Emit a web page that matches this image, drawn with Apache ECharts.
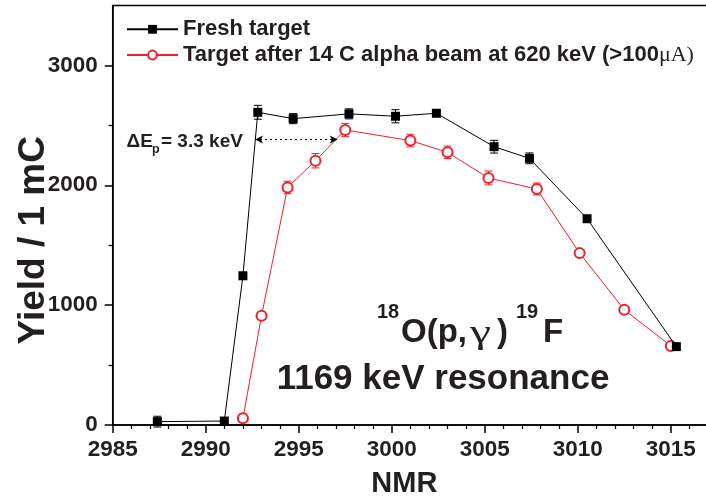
<!DOCTYPE html>
<html>
<head>
<meta charset="utf-8">
<script src="https://cdn.jsdelivr.net/npm/echarts@6/dist/echarts.min.js"></script>
<style>
html,body{margin:0;padding:0;background:#fff;}
#chart{width:706px;height:498px;}
</style>
</head>
<body>
<div id="chart"></div>
<script>
// ---- data ----
var seriesNames = ['Fresh target', 'Target after 14 C alpha beam at 620 keV (>100μA)'];
var freshX   = [2987.4, 2991.0, 2992.0, 2992.8, 2994.7, 2997.7, 3000.2, 3002.4, 3005.5, 3007.4, 3010.5, 3015.3];
var freshY   = [28, 33, 1245, 2609, 2556, 2596, 2576, 2601, 2322, 2225, 1721, 654];
var freshErr = [45, 20, 0, 58, 42, 42, 55, 25, 53, 45, 0, 0];
var afterX   = [2992.0, 2993.0, 2994.4, 2995.9, 2997.5, 3001.0, 3003.0, 3005.2, 3007.8, 3010.1, 3012.5, 3015.0];
var afterY   = [56, 911, 1982, 2205, 2462, 2373, 2275, 2061, 1969, 1434, 961, 660];
var afterErr = [35, 25, 52, 60, 54, 53, 52, 58, 50, 25, 20, 25];
var xMajorTicks = [2985, 2990, 2995, 3000, 3005, 3010, 3015];
var xMinorTicks = [2986, 2987, 2988, 2989, 2991, 2992, 2993, 2994, 2996, 2997, 2998, 2999, 3001, 3002, 3003, 3004, 3006, 3007, 3008, 3009, 3011, 3012, 3013, 3014, 3016];
var yMajorTicks = [0, 1000, 2000, 3000];
var yMinorTicks = [500, 1500, 2500];
var shiftArrow = [[2992.65, 2381], [2997.1, 2381]];
var shiftLabel = ['ΔE', 'p', '= 3.3 keV'];
var reactionLabel = ['18', 'O(p,', 'γ', ')', '19', 'F'];
var resonanceLabel = '1169 keV resonance';

// ---- build ----
function zip3(a, b, c) { var r = []; for (var i = 0; i < a.length; i++) r.push([a[i], b[i], c[i]]); return r; }
function zip2(a, b) { var r = []; for (var i = 0; i < a.length; i++) r.push([a[i], b[i]]); return r; }

var SANS = '"Liberation Sans", Arial, Helvetica, sans-serif';
var SERIF = '"Liberation Serif", "Times New Roman", serif';
var TXT = '#231f20';
var RED = '#f0202a';

function errRender(color) {
  return function (params, api) {
    var x = api.value(0), y = api.value(1), e = api.value(2);
    if (!e) return null;
    var lo = api.coord([x, y - e]);
    var hi = api.coord([x, y + e]);
    var w = 4;
    var st = { stroke: color, lineWidth: 1 };
    return {
      type: 'group',
      children: [
        { type: 'line', shape: { x1: lo[0], y1: lo[1], x2: hi[0], y2: hi[1] }, style: st },
        { type: 'line', shape: { x1: lo[0] - w, y1: lo[1], x2: lo[0] + w, y2: lo[1] }, style: st },
        { type: 'line', shape: { x1: hi[0] - w, y1: hi[1], x2: hi[0] + w, y2: hi[1] }, style: st }
      ]
    };
  };
}
function plain(v) { return String(v); }

var axisLineStyle = { color: '#000', width: 1.5 };

var chart = echarts.init(document.getElementById('chart'), null, { renderer: 'canvas' });
var option = {
  animation: false,
  backgroundColor: '#fff',
  grid: { left: 112.7, right: -2, top: 5.5, bottom: 73, containLabel: false, outerBoundsMode: 'none',
    show: true, borderColor: '#000', borderWidth: 1.5, backgroundColor: 'transparent' },
  legend: {
    data: seriesNames,
    left: 126, top: 18.3, orient: 'vertical', padding: 0,
    itemWidth: 51, itemHeight: 11, itemGap: 3.7,
    textStyle: { fontFamily: SANS, fontSize: 22, fontWeight: 'bold', color: TXT, lineHeight: 22,
      rich: { s: { fontFamily: SERIF, fontSize: 22, fontWeight: 'normal', color: TXT } } },
    formatter: function (name) {
      if (name === seriesNames[1]) return name.replace('μA)', '{s|μA)}');
      return name;
    }
  },
  xAxis: [
    {
      type: 'value', min: 2985, max: 3017, position: 'bottom',
      name: 'NMR', nameLocation: 'middle', nameGap: 44, nameMoveOverlap: false,
      nameTextStyle: { fontFamily: SANS, fontSize: 29, fontWeight: 'bold', color: TXT, padding: [0, 12, 0, 0] },
      axisLine: { lineStyle: axisLineStyle },
      axisTick: { customValues: xMajorTicks, length: 8, lineStyle: { color: '#000', width: 1.5 } },
      axisLabel: { customValues: xMajorTicks, formatter: plain, fontFamily: SANS, fontSize: 22.5, fontWeight: 'bold', color: TXT, margin: 13 },
      splitLine: { show: false }
    },
    {
      type: 'value', min: 2985, max: 3017, position: 'bottom',
      axisLine: { show: false },
      axisTick: { customValues: xMinorTicks, length: 4, lineStyle: { color: '#000', width: 1.2 } },
      axisLabel: { show: false },
      splitLine: { show: false }
    }
  ],
  yAxis: [
    {
      type: 'value', min: 0, max: 3500, position: 'left',
      name: 'Yield / 1 mC', nameLocation: 'middle', nameGap: 60, nameRotate: 90, nameMoveOverlap: false,
      nameTextStyle: { fontFamily: SANS, fontSize: 37, fontWeight: 'bold', color: TXT, padding: [0, 50, 0, 0] },
      axisLine: { lineStyle: axisLineStyle },
      axisTick: { customValues: yMajorTicks, length: 8, lineStyle: { color: '#000', width: 1.5 } },
      axisLabel: { customValues: yMajorTicks, formatter: plain, fontFamily: SANS, fontSize: 22.5, fontWeight: 'bold', color: TXT, margin: 15 },
      splitLine: { show: false }
    },
    {
      type: 'value', min: 0, max: 3500, position: 'left',
      axisLine: { show: false },
      axisTick: { customValues: yMinorTicks, length: 4, lineStyle: { color: '#000', width: 1.2 } },
      axisLabel: { show: false },
      splitLine: { show: false }
    }
  ],
  series: [
    {
      name: seriesNames[1], type: 'line', data: zip2(afterX, afterY),
      symbol: 'emptyCircle', symbolSize: 10,
      itemStyle: { color: RED, borderWidth: 1 },
      lineStyle: { color: RED, width: 1 },
      z: 3
    },
    {
      name: seriesNames[0], type: 'line', data: zip2(freshX, freshY),
      symbol: 'rect', symbolSize: 9,
      itemStyle: { color: '#000' },
      lineStyle: { color: '#000', width: 1 },
      z: 4,
      markLine: {
        silent: true, animation: false,
        symbol: ['arrow', 'arrow'], symbolSize: [6, 8],
        lineStyle: { color: '#000', type: [2, 3], width: 1.2 },
        label: { show: false },
        data: [[{ coord: shiftArrow[0] }, { coord: shiftArrow[1] }]]
      }
    },
    {
      type: 'custom', renderItem: errRender(RED), data: zip3(afterX, afterY, afterErr),
      encode: { x: 0, y: 1 }, z: 2, silent: true
    },
    {
      type: 'custom', renderItem: errRender('#000'), data: zip3(freshX, freshY, freshErr),
      encode: { x: 0, y: 1 }, z: 2, silent: true
    }
  ],
  graphic: [
    { type: 'text', x: 126.5, y: 142, style: { text: shiftLabel[0], fontFamily: SANS, fontSize: 19, fontWeight: 'bold', fill: TXT, align: 'left', verticalAlign: 'middle' } },
    { type: 'text', x: 152, y: 150, style: { text: shiftLabel[1], fontFamily: SANS, fontSize: 12.5, fontWeight: 'bold', fill: TXT, align: 'left', verticalAlign: 'middle' } },
    { type: 'text', x: 161, y: 142, style: { text: shiftLabel[2], fontFamily: SANS, fontSize: 19, fontWeight: 'bold', fill: TXT, align: 'left', verticalAlign: 'middle' } },

    { type: 'text', x: 377, y: 312, style: { text: reactionLabel[0], fontFamily: SANS, fontSize: 20, fontWeight: 'bold', fill: TXT, align: 'left', verticalAlign: 'middle' } },
    { type: 'text', x: 401, y: 333, style: { text: reactionLabel[1], fontFamily: SANS, fontSize: 33, fontWeight: 'bold', fill: TXT, align: 'left', verticalAlign: 'middle' } },
    { type: 'text', x: 470, y: 334, scaleX: 1.4, style: { text: reactionLabel[2], fontFamily: SERIF, fontSize: 34, fontWeight: 'normal', fill: TXT, align: 'left', verticalAlign: 'middle' } },
    { type: 'text', x: 497, y: 333, style: { text: reactionLabel[3], fontFamily: SANS, fontSize: 33, fontWeight: 'bold', fill: TXT, align: 'left', verticalAlign: 'middle' } },
    { type: 'text', x: 516, y: 312, style: { text: reactionLabel[4], fontFamily: SANS, fontSize: 20, fontWeight: 'bold', fill: TXT, align: 'left', verticalAlign: 'middle' } },
    { type: 'text', x: 543, y: 333, style: { text: reactionLabel[5], fontFamily: SANS, fontSize: 33, fontWeight: 'bold', fill: TXT, align: 'left', verticalAlign: 'middle' } },

    { type: 'text', x: 443, y: 379, style: { text: resonanceLabel, fontFamily: SANS, fontSize: 35, fontWeight: 'bold', fill: TXT, align: 'center', verticalAlign: 'middle' } }
  ]
};
chart.setOption(option);
</script>
</body>
</html>
